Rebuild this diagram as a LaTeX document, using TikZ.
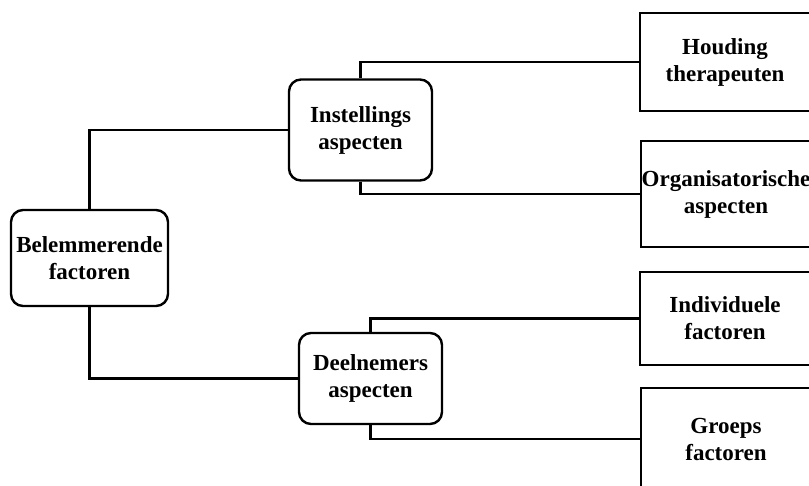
\documentclass[tikz,border=0pt]{standalone}
\usepackage{fontspec}
\setmainfont{Liberation Serif}

\begin{document}
\begin{tikzpicture}[x=1pt, y=-1pt, line width=2.4pt,
  tekst/.style={align=center, inner sep=0pt, font=\bfseries\fontsize{23}{27}\selectfont},
  hoofd/.style={tekst, draw, rounded corners=12pt},
  blad/.style={tekst, draw, minimum width=170pt}]
  % pagina: 809 x 485, y loopt naar beneden
  \useasboundingbox (0,0) rectangle (809,485);
  \fill[white] (0,0) rectangle (809,485);
  \clip (0,0) rectangle (809,485);

  % hoofdknopen
  \node[hoofd, minimum width=157pt, minimum height=96pt]  (bel)  at (89.5,258)  {Belemmerende\\factoren};
  \node[hoofd, minimum width=143pt, minimum height=101pt] (inst) at (360.5,130) {Instellings\\aspecten};
  \node[hoofd, minimum width=143pt, minimum height=91pt]  (deel) at (370.5,378.5) {Deelnemers\\aspecten};

  % bladknopen (rechts afgesneden)
  \node[blad, minimum height=98pt]  (houd)  at (725,62)  {Houding\\therapeuten};
  \node[blad, minimum height=106pt] (org)   at (726,194) {Organisatorische\\aspecten};
  \node[blad, minimum height=93pt]  (indiv) at (725,318.5) {Individuele\\factoren};
  \node[blad, minimum height=102pt] (groep) at (726,439) {Groeps\\factoren};

  % verbindingen
  \draw (bel.north)  |- (inst.west);
  \draw (bel.south)  |- (deel.west);
  \draw (inst.north) |- (houd.west);
  \draw (inst.south) |- (org.west);
  \draw (deel.north) |- (indiv.west);
  \draw (deel.south) |- (groep.west);
\end{tikzpicture}
\end{document}
